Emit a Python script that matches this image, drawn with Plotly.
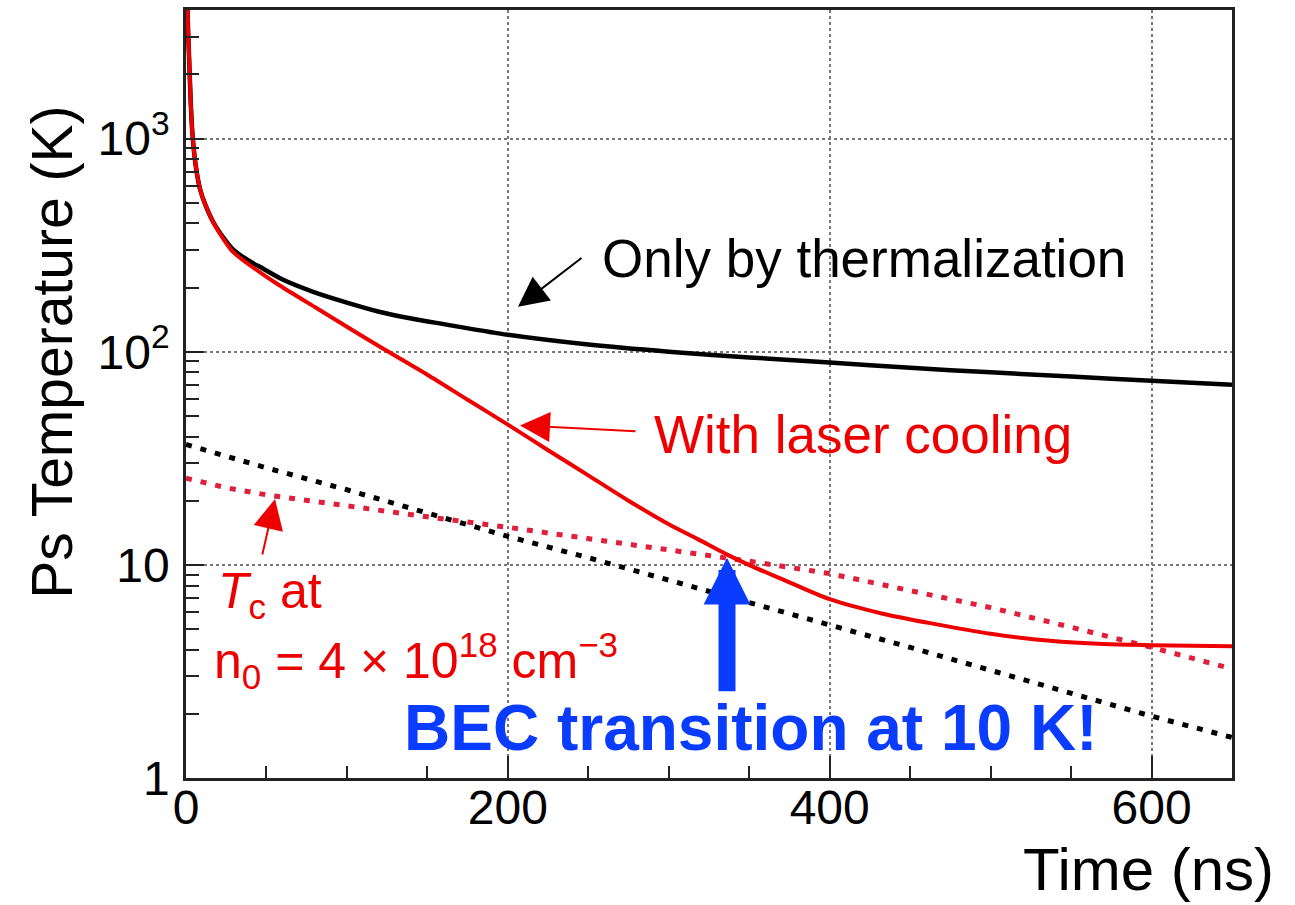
import plotly.graph_objects as go

# ---------------- data ----------------
t_therm = [0, 1, 2, 3, 4, 6, 8.7, 12, 17, 23, 29, 38, 48, 60, 79, 100, 120,
           140, 162, 200, 250, 300, 350, 400, 450, 500, 550, 600, 650]
T_therm = [9000, 3800, 2300, 1450, 1050, 750, 580, 490, 405, 345, 303, 270, 245,
           218, 191, 170, 154, 143, 134, 120, 108, 100, 94, 89, 84, 80, 76.5, 73, 70]

t_laser = [0, 1, 2, 3, 4, 6, 8.7, 12, 17, 23, 29, 38, 48, 58, 80, 100, 120,
           150, 175, 200, 225, 250, 275, 300, 318, 336, 355, 370, 400, 433, 464, 500,
           537, 570, 600, 650]
T_laser = [9000, 3800, 2300, 1450, 1050, 750, 580, 490, 403, 340, 295, 260, 230,
           205, 162, 131, 106, 78, 59.5, 45.5, 34.5, 26.3, 20.0, 15.5, 13.2, 11.2, 9.6,
           8.6, 6.9, 5.9, 5.3, 4.75, 4.4, 4.25, 4.2, 4.15]

t_tc = [0, 25, 50, 100, 150, 200, 250, 300, 350, 400, 450, 500, 550, 600, 650]
T_tc_red = [25.5, 23, 21.3, 18.8, 16.8, 15.0, 13.3, 11.8, 10.4, 9.1, 7.6, 6.3, 5.1, 4.1, 3.25]
T_tc_black = [36.7, 32.3, 28.5, 22.5, 17.5, 13.6, 10.8, 8.5, 6.6, 5.2, 4.1, 3.2, 2.5, 1.95, 1.55]

x_ticks = [0, 200, 400, 600]
x_ticktext = ["0", "200", "400", "600"]
y_ticks = [1, 10, 100, 1000]
y_ticktext = ["1", "10", "10<sup>2</sup>", "10<sup>3</sup>"]
y_minor = [m * d for d in (1, 10, 100, 1000) for m in range(2, 10) if m * d < 4100]

# ---------------- layout helpers ----------------
W, H = 1295, 905
L, R, T, B = 186, 1232, 7, 778


def px(x):
    return (x - L) / (R - L)


def py(y):
    return (B - y) / (B - T)


FONT = "Liberation Sans, Arial, sans-serif"
RED = "#ee0000"
BLUE = "#0a3cff"

fig = go.Figure()
fig.add_trace(go.Scatter(x=t_tc, y=T_tc_black, mode="lines",
                         line=dict(color="black", width=5, dash="6px,9px"),
                         showlegend=False, hoverinfo="skip"))
fig.add_trace(go.Scatter(x=t_tc, y=T_tc_red, mode="lines",
                         line=dict(color="#e0203a", width=5, dash="6px,9px"),
                         showlegend=False, hoverinfo="skip"))
fig.add_trace(go.Scatter(x=t_therm, y=T_therm, mode="lines",
                         line=dict(color="black", width=4.5, shape="spline", smoothing=0.8),
                         showlegend=False))
fig.add_trace(go.Scatter(x=t_laser, y=T_laser, mode="lines",
                         line=dict(color=RED, width=4, shape="spline", smoothing=0.8),
                         showlegend=False))

axis_common = dict(showline=True, linecolor="#222", linewidth=2.5, mirror=True,
                   ticks="inside", tickcolor="#222", tickwidth=2,
                   showgrid=True, gridcolor="#777", gridwidth=1.5, griddash="dot",
                   zeroline=False, tickfont=dict(family=FONT, size=48, color="black"))

fig.update_xaxes(range=[0, 650], tickmode="array", tickvals=x_ticks, ticktext=x_ticktext,
                 ticklen=22, ticklabelstandoff=-14,
                 minor=dict(ticks="inside", ticklen=12, tickwidth=2, tickcolor="#222",
                            dtick=50, showgrid=False),
                 **axis_common)
fig.update_yaxes(type="log", range=[0, 3.603], tickmode="array", tickvals=y_ticks,
                 ticktext=y_ticktext, ticklen=18, ticklabelstandoff=4,
                 minor=dict(ticks="inside", ticklen=13, tickwidth=2, tickcolor="#222",
                            tickmode="array", tickvals=y_minor, showgrid=False),
                 **axis_common)

ann = []
# axis titles
ann.append(dict(text="Ps Temperature (K)", xref="paper", yref="paper",
                x=px(52), y=py(351), textangle=-90, showarrow=False,
                font=dict(family=FONT, size=57, color="black"),
                xanchor="center", yanchor="middle"))
ann.append(dict(text="Time (ns)", xref="paper", yref="paper",
                x=px(1276), y=py(870), showarrow=False,
                font=dict(family=FONT, size=60, color="black"),
                xanchor="right", yanchor="middle"))
# labels
ann.append(dict(text="Only by thermalization", xref="paper", yref="paper",
                x=px(600), y=py(256), showarrow=False, xanchor="left", yanchor="middle",
                font=dict(family=FONT, size=53, color="black")))
ann.append(dict(text="With laser cooling", xref="paper", yref="paper",
                x=px(652), y=py(433), showarrow=False, xanchor="left", yanchor="middle",
                font=dict(family=FONT, size=53, color=RED)))
ann.append(dict(text="<i>T</i><sub>c</sub> at", xref="paper", yref="paper",
                x=px(216), y=py(594), showarrow=False, xanchor="left", yanchor="middle",
                font=dict(family=FONT, size=50, color=RED)))
ann.append(dict(text="n<sub>0</sub> = 4 × 10<sup>18</sup> cm<sup>−3</sup>",
                xref="paper", yref="paper",
                x=px(212), y=py(660), showarrow=False, xanchor="left", yanchor="middle",
                font=dict(family=FONT, size=50, color=RED)))
ann.append(dict(text="<b>BEC transition at 10 K!</b>", xref="paper", yref="paper",
                x=px(750), y=py(728), showarrow=False, xanchor="center", yanchor="middle",
                font=dict(family=FONT, size=64, color=BLUE)))
# arrows
ann.append(dict(text="", xref="paper", yref="paper", x=px(518), y=py(305),
                ax=65, ay=-50, showarrow=True, arrowhead=2, arrowsize=3.0,
                arrowwidth=2, arrowcolor="black"))
ann.append(dict(text="", xref="paper", yref="paper", x=px(520), y=py(424),
                ax=117, ay=6, showarrow=True, arrowhead=2, arrowsize=3.0,
                arrowwidth=2, arrowcolor=RED))
ann.append(dict(text="", xref="paper", yref="paper", x=px(275), y=py(498),
                ax=-13, ay=57, showarrow=True, arrowhead=2, arrowsize=3.0,
                arrowwidth=2, arrowcolor=RED))
ann.append(dict(text="", xref="paper", yref="paper", x=px(727), y=py(557),
                ax=0, ay=135, showarrow=True, arrowhead=2, arrowsize=0.55,
                arrowwidth=17, arrowcolor=BLUE))

fig.update_layout(width=W, height=H, margin=dict(l=L, r=W - R, t=T, b=H - B),
                  paper_bgcolor="white", plot_bgcolor="white",
                  annotations=ann, showlegend=False,
                  font=dict(family=FONT, color="black"))

fig.write_html("out.html", config={"displayModeBar": False},
               post_script="document.body.style.margin='0';document.body.style.overflow='hidden';")
